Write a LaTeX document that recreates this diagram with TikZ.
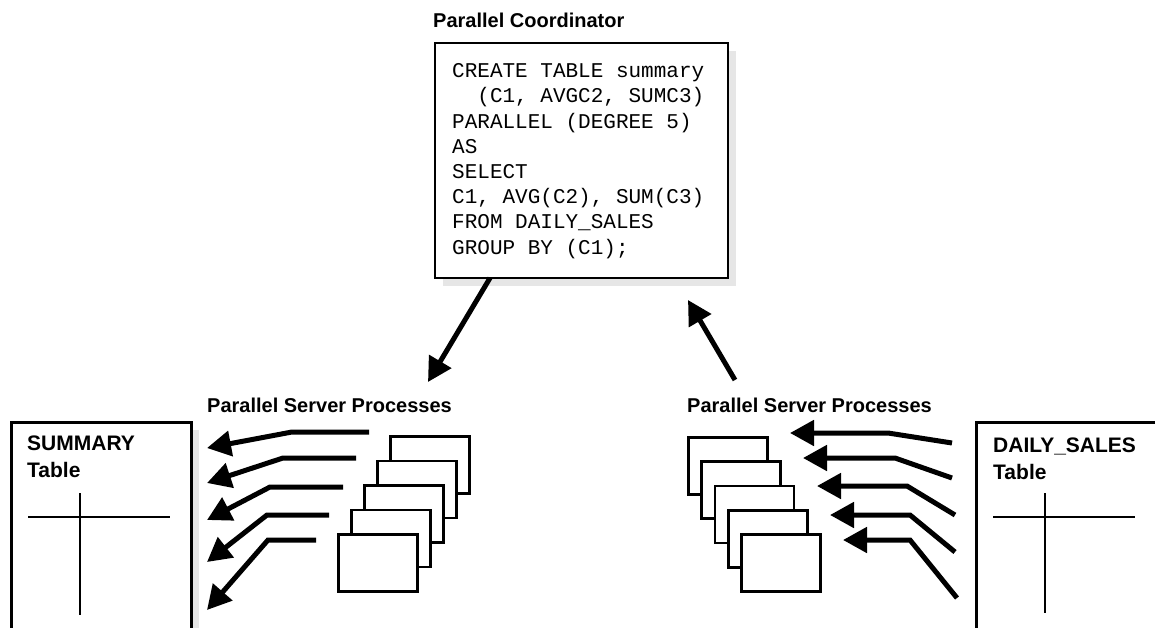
\documentclass[tikz,border=0pt]{standalone}
\usepackage{fontspec}
\setmainfont{Liberation Sans}
\newfontfamily\codefont{Liberation Mono}
\usetikzlibrary{arrows.meta,shadows}
\definecolor{shadowgray}{HTML}{E6E6E6}
\begin{document}
\begin{tikzpicture}[x=1pt,y=-1pt,
  shadowed/.style={drop shadow={shadow xshift=8pt,shadow yshift=-8pt,fill=shadowgray,opacity=1}},
  tablebox/.style={draw,line width=2.8pt,fill=white,inner sep=0pt},
  proc/.style={draw,line width=2.8pt,fill=white,minimum width=79pt,minimum height=57pt,inner sep=0pt,anchor=north west},
  lbl/.style={font=\bfseries\fontsize{20}{24}\selectfont,inner sep=0pt,anchor=base west},
  tbllbl/.style={font=\bfseries\fontsize{21}{27}\selectfont,inner sep=0pt,anchor=north west,align=left},
  flow/.style={line width=5pt,-{Triangle[length=24pt,width=25pt]}},
  cross/.style={line width=2.5pt}
]
\useasboundingbox (0,0) rectangle (1155,628);

% Parallel coordinator
\node[lbl] (pctitle) at (433,27.2) {Parallel Coordinator};
\node[tablebox,shadowed,minimum width=293pt,minimum height=235pt] (coord) at (581.5,160.5) {};
\node[inner sep=0pt,align=left,anchor=west,
      font=\codefont\fontsize{21}{25.2}\selectfont] (code) at (452,161)
  {CREATE TABLE summary\\\phantom{xx}(C1, AVGC2, SUMC3)\\PARALLEL (DEGREE 5)\\AS\\SELECT\\C1, AVG(C2), SUM(C3)\\FROM DAILY\_SALES\\GROUP BY (C1);};

% labels
\node[lbl] (lpsp) at (207,412) {Parallel Server Processes};
\node[lbl] (rpsp) at (687,412) {Parallel Server Processes};

% tables
\node[tablebox,shadowed,minimum width=180pt,minimum height=230pt,anchor=north west] (summary) at (10,421) {};
\node[tbllbl] (sumtxt) at (27,435.5) {SUMMARY\\Table};
\draw[cross] (28,517) -- (170,517);
\draw[cross] (80,493) -- (80,615);

\node[tablebox,shadowed,minimum width=200pt,minimum height=230pt,anchor=north west] (daily) at (975,421) {};
\node[tbllbl] (dailytxt) at (993,437.5) {DAILY\_SALES\\Table};
\draw[cross] (993,517) -- (1135,517);
\draw[cross] (1045,493) -- (1045,613);

% process stacks
\foreach \i in {0,...,4} {
  \node[proc] (lp\i) at ({389-13*\i},{435+24.5*\i}) {};
}
\foreach \i in {0,...,4} {
  \node[proc] (rp\i) at ({687+13.3*\i},{436+24.3*\i}) {};
}

% left arrows (processes -> SUMMARY)
\foreach \i/\sx/\sy/\bx/\tx/\ty in {1/369/432/292/207/448, 2/356/458/283/207/483, 3/343/487/270/207/520, 4/329/515/267/207/562, 5/316/540/268/207/610} {
  \coordinate (ls\i) at (\sx,\sy);
  \coordinate (lt\i) at (\tx,\ty);
  \draw[flow] (ls\i) -- (\bx,\sy) -- (lt\i);
}
% right arrows (DAILY_SALES -> processes)
\foreach \i/\sx/\sy/\bx/\by/\tx in {1/952/443/888/433/790, 2/952/478/895/458/803, 3/955/515/907/486/817, 4/955/552/910/515/830, 5/957/598/910/540/843} {
  \coordinate (rs\i) at (\sx,\sy);
  \coordinate (rt\i) at (\tx,\by);
  \draw[flow] (rs\i) -- (\bx,\by) -- (rt\i);
}

% coordinator arrows
\coordinate (downs) at (490,278);
\coordinate (downt) at (428,382);
\draw[flow] (downs) -- (downt);
\coordinate (ups) at (735,380);
\coordinate (upt) at (688,300);
\draw[flow] (ups) -- (upt);
\end{tikzpicture}
\end{document}
